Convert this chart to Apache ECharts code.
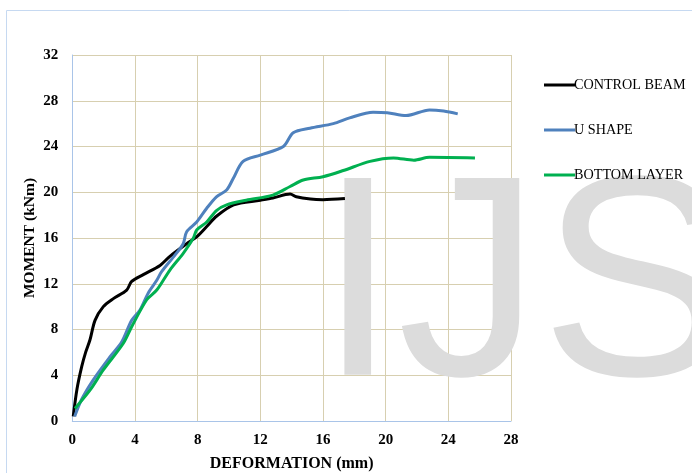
<!DOCTYPE html>
<html><head><meta charset="utf-8">
<script src="https://cdn.jsdelivr.net/npm/echarts@6/dist/echarts.min.js"></script>
<style>html,body{margin:0;padding:0;background:#fff}#c{width:692px;height:473px}</style>
</head><body><div id="c"></div>
<script>
var seriesNames = ['CONTROL BEAM', 'U SHAPE', 'BOTTOM LAYER'];
var xTicks = [0, 4, 8, 12, 16, 20, 24, 28];
var yTicks = [0, 4, 8, 12, 16, 20, 24, 28, 32];
var controlBeam = [
  [0.06,0.4],[0.3,2.8],[0.6,4.75],[0.85,6.0],[1.13,7.1],[1.45,8.8],[1.98,10.0],[2.62,10.7],
  [3.47,11.45],[3.79,12.2],[4.53,12.8],[5.6,13.6],[6.23,14.4],[7.3,15.5],[7.94,16.1],
  [8.58,17.0],[9.2,17.9],[10.3,18.9],[12.0,19.3],[12.8,19.5],[13.9,19.85],[14.3,19.6],
  [15.2,19.4],[16.0,19.35],[17.4,19.45]
];
var uShape = [
  [0.15,0.4],[0.6,1.9],[1.34,3.6],[2.4,5.6],[3.15,6.9],[3.79,8.8],[4.32,9.7],[4.85,11.2],
  [5.39,12.3],[5.7,13.05],[6.55,14.5],[7.08,15.5],[7.3,16.55],[7.94,17.4],[8.58,18.6],
  [9.2,19.6],[9.85,20.2],[10.27,21.2],[10.9,22.7],[12.0,23.25],[13.47,24.0],[14.1,25.2],
  [15.17,25.6],[16.66,26.0],[17.7,26.5],[19.2,27.0],[20.1,26.95],[21.3,26.7],[22.8,27.2],
  [23.7,27.1],[24.6,26.85]
];
var bottomLayer = [
  [0.17,1.1],[1.13,2.7],[1.98,4.46],[3.26,6.8],[3.79,8.24],[4.75,10.6],[5.39,11.45],
  [6.23,13.2],[7.08,14.66],[7.72,15.97],[7.94,16.7],[8.58,17.4],[9.2,18.4],[9.85,18.9],
  [11.1,19.3],[12.8,19.75],[13.9,20.5],[14.74,21.07],[16.0,21.36],[17.3,21.9],[19.0,22.7],
  [20.5,23.0],[21.8,22.8],[22.8,23.05],[25.7,23.0]
];
var colors = ['#000000', '#4f81bd', '#00b050'];
var dataSets = [controlBeam, uShape, bottomLayer];

var chart = echarts.init(document.getElementById('c'), null, {renderer:'canvas'});
var serif = '"Liberation Serif", "Times New Roman", serif';
chart.setOption({
  animation: false,
  color: colors,
  graphic: [
    {type:'rect', shape:{x:6.5, y:10.5, width:700, height:480}, style:{fill:'none', stroke:'#c6d9f1', lineWidth:1}, z:-1},
    {type:'text', x:318, y:296, z:1,
     style:{text:'IJS', font:'286px "Liberation Sans", Arial, sans-serif', fill:'#dcdcdc', verticalAlign:'middle', align:'left'}}
  ],
  grid: {left:72.3, right:181, top:55, bottom:52, containLabel:false, outerBoundsMode:'none'},
  legend: {
    orient:'vertical', left:539, top:73, itemWidth:31, itemHeight:3, itemGap:31,
    icon:'rect',
    data: seriesNames.map(function(n,i){return {name:n, itemStyle:{color:colors[i]}};}),
    textStyle:{fontFamily:serif, fontSize:14.2, color:'#000', padding:[0,0,0,-6]}
  },
  xAxis: {
    type:'value', min:xTicks[0], max:xTicks[xTicks.length-1], interval:4,
    name:'DEFORMATION (mm)', nameLocation:'middle', nameGap:35, nameMoveOverlap:false,
    nameTextStyle:{fontFamily:serif, fontSize:16, fontWeight:'bold', color:'#000'},
    axisLine:{show:true, lineStyle:{color:'#a9c4e8', width:1}},
    axisTick:{show:false},
    axisLabel:{fontFamily:serif, fontSize:15, fontWeight:'bold', color:'#000', margin:12},
    splitLine:{show:true, lineStyle:{color:'#d7cfb0', width:1}}
  },
  yAxis: {
    type:'value', min:yTicks[0], max:yTicks[yTicks.length-1], interval:4,
    name:'MOMENT (kNm)', nameLocation:'middle', nameGap:34, nameRotate:90, nameMoveOverlap:false,
    nameTextStyle:{fontFamily:serif, fontSize:15.5, fontWeight:'bold', color:'#000'},
    axisLine:{show:true, lineStyle:{color:'#a9c4e8', width:1}},
    axisTick:{show:false},
    axisLabel:{fontFamily:serif, fontSize:15, fontWeight:'bold', color:'#000', margin:14},
    splitLine:{show:true, lineStyle:{color:'#d7cfb0', width:1}}
  },
  series: dataSets.map(function(d,i){
    return {name:seriesNames[i], type:'line', data:d, showSymbol:false, symbol:'none',
      smooth:0.3, z:3, lineStyle:{color:colors[i], width:3}, itemStyle:{color:colors[i]}};
  })
});
</script></body></html>
